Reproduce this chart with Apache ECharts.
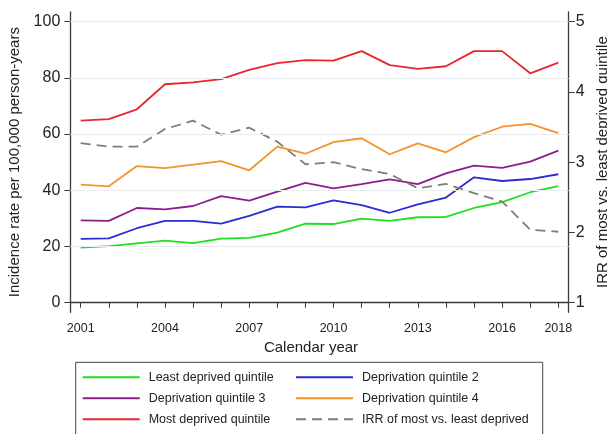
<!DOCTYPE html>
<html>
<head>
<meta charset="utf-8">
<script src="https://cdn.jsdelivr.net/npm/echarts@6/dist/echarts.min.js"></script>
<style>
  html, body { margin: 0; padding: 0; background: #fff; }
  #chart { width: 607px; height: 434px; }
</style>
</head>
<body>
<div id="chart"></div>
<script>
// data
var years = [2001, 2002, 2003, 2004, 2005, 2006, 2007, 2008, 2009, 2010, 2011, 2012, 2013, 2014, 2015, 2016, 2017, 2018];
var leastDeprived = [19.6, 20.1, 21.1, 22.1, 21.2, 22.8, 23.1, 24.9, 28.1, 28.0, 29.9, 29.1, 30.4, 30.5, 33.7, 35.8, 39.3, 41.5];
var quintile2 = [22.7, 22.9, 26.5, 29.1, 29.1, 28.1, 30.9, 34.2, 33.9, 36.4, 34.7, 32.0, 35.0, 37.4, 44.6, 43.3, 44.0, 45.7];
var quintile3 = [29.3, 29.1, 33.7, 33.2, 34.4, 37.9, 36.3, 39.5, 42.6, 40.7, 42.2, 43.9, 42.2, 46.0, 48.8, 48.0, 50.2, 54.1];
var quintile4 = [42.0, 41.4, 48.6, 47.9, 49.1, 50.4, 47.1, 55.5, 53.0, 57.1, 58.5, 52.8, 56.7, 53.5, 58.9, 62.6, 63.6, 60.3];
var mostDeprived = [64.8, 65.3, 68.8, 77.7, 78.4, 79.5, 82.8, 85.2, 86.3, 86.1, 89.5, 84.5, 83.2, 84.1, 89.5, 89.5, 81.6, 85.4];
var irr = [3.27, 3.22, 3.22, 3.47, 3.59, 3.39, 3.49, 3.29, 2.97, 3.00, 2.90, 2.83, 2.63, 2.69, 2.56, 2.44, 2.04, 2.01];

// ticks / labels
var xLabels = [2001, 2004, 2007, 2010, 2013, 2016, 2018];
var leftTicks = [0, 20, 40, 60, 80, 100];
var rightTicks = [1, 2, 3, 4, 5];

var FONT = '"Liberation Sans", Arial, sans-serif';
var AXIS = '#3a3a3a';

function pairs(vals) {
    return years.map(function (y, i) { return [y, vals[i]]; });
}

var chart = echarts.init(document.getElementById('chart'), null, {renderer: 'canvas'});

function mkLine(name, vals, color, axis, dashed) {
    return {
        name: name,
        type: 'line',
        yAxisIndex: axis,
        data: pairs(vals),
        symbol: 'none',
        z: 3,
        lineStyle: {color: color, width: 1.8, type: dashed ? [10, 6] : 'solid'},
        itemStyle: {color: color}
    };
}

var legendText = {fontFamily: FONT, fontSize: 12.5, color: '#222', padding: [0, 0, 0, 4]};

var option = {
    animation: false,
    backgroundColor: '#fff',
    grid: {left: 70.3, right: 38.3, top: 12, bottom: 121.7, outerBoundsMode: 'none', containLabel: false},
    xAxis: {
        type: 'value',
        min: 2000.63,
        max: 2018.37,
        name: 'Calendar year',
        nameLocation: 'middle',
        nameGap: 23,
        nameTextStyle: {fontFamily: FONT, fontSize: 15, color: '#222', padding: [0, 17, 0, 0]},
        axisLine: {lineStyle: {color: AXIS, width: 1.3}},
        axisTick: {show: true, length: 5, customValues: years, lineStyle: {color: AXIS}},
        axisLabel: {
            customValues: xLabels,
            margin: 10,
            fontFamily: FONT, fontSize: 12.5, color: '#222',
            formatter: function (v) { return String(v); }
        },
        splitLine: {show: false}
    },
    yAxis: [{
        type: 'value',
        position: 'left',
        min: -3.4,
        max: 103.4,
        name: 'Incidence rate per 100,000 person-years',
        nameLocation: 'middle',
        nameGap: 44,
        nameTextStyle: {fontFamily: FONT, fontSize: 15, color: '#222'},
        axisLine: {show: true, lineStyle: {color: AXIS, width: 1.3}},
        axisTick: {show: true, length: 6, customValues: leftTicks, lineStyle: {color: AXIS}},
        axisLabel: {customValues: leftTicks, margin: 10, fontFamily: FONT, fontSize: 16, color: '#222'},
        splitLine: {show: false}
    }, {
        type: 'value',
        position: 'right',
        min: 0.864,
        max: 5.136,
        name: 'IRR of most vs. least deprived quintile',
        nameLocation: 'middle',
        nameGap: 24,
        nameRotate: 90,
        nameTextStyle: {fontFamily: FONT, fontSize: 15, color: '#222'},
        axisLine: {show: true, lineStyle: {color: AXIS, width: 1.3}},
        axisTick: {show: true, length: 6, customValues: rightTicks, lineStyle: {color: AXIS}},
        axisLabel: {customValues: rightTicks, margin: 7, fontFamily: FONT, fontSize: 16, color: '#222'},
        splitLine: {show: false}
    }],
    legend: [{
        orient: 'vertical',
        left: 81.7,
        top: 370.7,
        padding: 0,
        itemWidth: 57,
        itemHeight: 14,
        itemGap: 8,
        selectedMode: false,
        itemStyle: {opacity: 0},
        textStyle: legendText,
        data: ['Least deprived quintile', 'Deprivation quintile 3', 'Most deprived quintile']
    }, {
        orient: 'vertical',
        left: 295,
        top: 370.7,
        padding: 0,
        itemWidth: 57,
        itemHeight: 14,
        itemGap: 8,
        selectedMode: false,
        itemStyle: {opacity: 0},
        textStyle: legendText,
        data: ['Deprivation quintile 2', 'Deprivation quintile 4', 'IRR of most vs. least deprived']
    }],
    graphic: [{
        type: 'rect',
        shape: {x: 75.7, y: 362.3, width: 467, height: 100},
        style: {fill: 'none', stroke: '#444', lineWidth: 1},
        silent: true
    }],
    series: [
        {
            name: 'grid',
            type: 'line',
            data: [],
            z: 1,
            markLine: {
                silent: true,
                symbol: 'none',
                label: {show: false},
                lineStyle: {color: '#e9eded', width: 1, type: 'solid'},
                data: leftTicks.filter(function (v) { return v > 0; }).map(function (v) { return {yAxis: v}; })
            }
        },
        mkLine('Least deprived quintile', leastDeprived, '#1ee01e', 0, false),
        mkLine('Deprivation quintile 2', quintile2, '#2b2bd2', 0, false),
        mkLine('Deprivation quintile 3', quintile3, '#8c1e8c', 0, false),
        mkLine('Deprivation quintile 4', quintile4, '#f5922a', 0, false),
        mkLine('Most deprived quintile', mostDeprived, '#e8262c', 0, false),
        mkLine('IRR of most vs. least deprived', irr, '#7d7d7d', 1, true)
    ]
};

chart.setOption(option);
</script>
</body>
</html>
